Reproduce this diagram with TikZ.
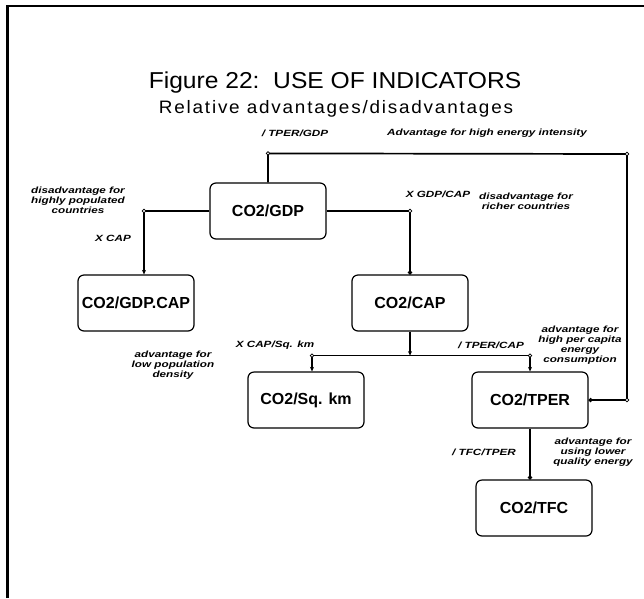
\documentclass[tikz,border=0pt]{standalone}
\usepackage{fontspec}
\setmainfont{Liberation Sans}
\newfontfamily\lblfont[FakeStretch=1.3]{Liberation Sans}
\newfontfamily\titlefont[FakeStretch=1.07]{Liberation Sans}
\newfontfamily\subfont[LetterSpace=10,FakeStretch=1.05]{Liberation Sans}
\usetikzlibrary{positioning,arrows.meta}

\begin{document}
\begin{tikzpicture}[
  x=1pt, y=-1pt,
  box/.style={draw, line width=1.2pt, rounded corners=6pt, minimum width=116pt,
              minimum height=56pt, inner sep=2pt,
              font=\fontsize{16}{18}\selectfont\bfseries},
  lbl/.style={font=\lblfont\fontsize{9}{10}\selectfont\bfseries\itshape,
              align=center, inner sep=0pt},
  wire/.style={line width=1.7pt},
  arr/.style={wire, -{Stealth[length=4.5pt, width=4pt]}},
  dotend/.style={wire, -{Circle[open, length=4pt]}},
]
\useasboundingbox (0,0) rectangle (644,598);
% frame
\draw[line width=3pt] (7,598) -- (7,6);
\draw[line width=1.8pt] (6,6) -- (644,6);

% titles
\node[font=\titlefont\fontsize{23}{25}\selectfont] (title) at (335,83) {Figure 22:\ \ USE OF INDICATORS};
\node[font=\subfont\fontsize{18}{20}\selectfont] (subtitle) at (336,109) {Relative advantages/disadvantages};

% indicator boxes
\node[box] (gdp) at (268,211) {CO2/GDP};
\node[box] (gdpcap) at (136,303) {CO2/GDP.CAP};
\node[box] (cap) at (410,303) {CO2/CAP};
\node[box] (sqkm) at (306,400) {CO2/Sq. km};
\node[box] (tper) at (530,400) {CO2/TPER};
\node[box] (tfc) at (534,508) {CO2/TFC};

% corners of the connectors
\coordinate (kleft) at ([xshift=8pt]gdpcap.north |- gdp.west);
\coordinate (kright) at (cap.north |- gdp.east);
\coordinate (ktop) at ([yshift=29pt]gdp.north);
\coordinate (kne) at (627,154);
\coordinate (kse) at (kne |- tper.east);
\coordinate (jn) at ([yshift=-24pt]cap.south);
\coordinate (jl) at ([xshift=6pt]sqkm.north |- jn);
\coordinate (jr) at (tper.north |- jn);

\draw[arr] (gdp.west) -- (kleft) -- (kleft |- gdpcap.north);
\draw[dotend] (gdp.east) -- (kright) -- (cap.north);
\draw[dotend] (gdp.north) -- (ktop) -- (kne) -- (kse) -- (tper.east);
\draw[arr] (cap.south) -- (jn);
\draw[arr] (jn) -- (jl) -- (jl |- sqkm.north);
\draw[arr] (jn) -- (jr) -- (tper.north);
\draw[dotend] (tper.south) -- (tper.south |- tfc.north);
\foreach \k in {kleft,kright,ktop,kne,kse,jl,jr}
  \draw[line width=0.7pt, fill=white] (\k) circle (1.8pt);

% connector labels
\node[lbl] (lgdp) at (295,133) {/ TPER/GDP};
\node[lbl] (ladvint) at (487,133) {Advantage for high energy intensity};
\node[lbl] (ldispop) at (78,200) {disadvantage for\\highly populated\\countries};
\node[lbl] (lxcap) at (113,238) {X CAP};
\node[lbl] (lxgdpcap) at (438,194) {X GDP/CAP};
\node[lbl] (ldisrich) at (526,201) {disadvantage for\\richer countries};
\node[lbl] (lxsq) at (275,345) {X CAP/Sq. km};
\node[lbl] (ltpercap) at (491,345) {/ TPER/CAP};
\node[lbl] (ladvlow) at (173,365) {advantage for\\low population\\density};
\node[lbl] (ladvcap) at (580,345) {advantage for\\high per capita\\energy\\consumption};
\node[lbl] (ltfc) at (484,452) {/ TFC/TPER};
\node[lbl] (ladvqual) at (593,452) {advantage for\\using lower\\quality energy};
\end{tikzpicture}
\end{document}
